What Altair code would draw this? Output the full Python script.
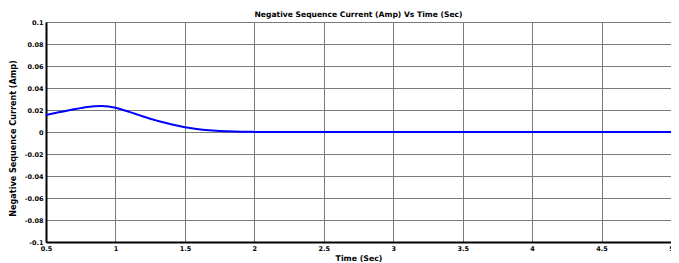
import altair as alt
import pandas as pd

time_sec = [0.5, 0.55, 0.6, 0.65, 0.7, 0.75, 0.8, 0.85, 0.9, 0.95, 1.0, 1.05, 1.1,
            1.15, 1.2, 1.25, 1.3, 1.35, 1.4, 1.45, 1.5, 1.55, 1.6, 1.65, 1.7, 1.75,
            1.8, 1.85, 1.9, 2.0, 2.1, 2.5, 3.0, 4.0, 5.0]
current_amp = [0.0155, 0.0168, 0.0181, 0.0194, 0.0206, 0.0217, 0.0227, 0.0234, 0.0236,
               0.0232, 0.0220, 0.0203, 0.0183, 0.0162, 0.0141, 0.0121, 0.0103, 0.0086,
               0.0070, 0.0056, 0.0044, 0.0034, 0.0026, 0.0019, 0.0014, 0.0010, 0.0007,
               0.0005, 0.0003, 0.0001, 0.0, 0.0, 0.0, 0.0, 0.0]

x_ticks = [0.5, 1, 1.5, 2, 2.5, 3, 3.5, 4, 4.5, 5]
y_ticks = [-0.1, -0.08, -0.06, -0.04, -0.02, 0, 0.02, 0.04, 0.06, 0.08, 0.1]

df = pd.DataFrame({"t": time_sec, "i": current_amp})

FONT = "DejaVu Sans"
label_expr = "datum.value == 0 ? '0' : (datum.value < 0 ? '-' : '') + format(abs(datum.value), '~g')"

W, H = 625, 220

chart = alt.Chart(df).mark_line(color="#0000FF", strokeWidth=2, interpolate="monotone").encode(
    x=alt.X("t:Q", scale=alt.Scale(domain=[0.5, 5], nice=False, zero=False),
            axis=alt.Axis(values=x_ticks, title="Time (Sec)", labelExpr=label_expr,
                          grid=True, gridColor="#7a7a7a", gridWidth=1,
                          domainColor="black", domainWidth=2, ticks=False,
                          labelFont=FONT, labelFontWeight="bold", labelFontSize=6.5,
                          labelColor="black", labelPadding=3, labelFlush=False,
                          labelOverlap=False,
                          titleFont=FONT, titleFontWeight="bold", titleFontSize=7.8,
                          titleColor="black", titleX=W / 2, titleY=16,
                          titleBaseline="middle", titleAlign="center")),
    y=alt.Y("i:Q", scale=alt.Scale(domain=[-0.1, 0.1], nice=False, zero=False),
            axis=alt.Axis(values=y_ticks, title="Negative Sequence Current (Amp)",
                          labelExpr=label_expr,
                          grid=True, gridColor="#7a7a7a", gridWidth=1,
                          domainColor="black", domainWidth=2, ticks=False,
                          labelFont=FONT, labelFontWeight="bold", labelFontSize=6.5,
                          labelColor="black", labelPadding=3, labelFlush=False,
                          labelOverlap=False,
                          titleFont=FONT, titleFontWeight="bold", titleFontSize=8.1,
                          titleColor="black", titleX=-33, titleY=H / 2 + 6, titleAngle=-90,
                          titleBaseline="middle", titleAlign="center")),
).properties(
    width=W,
    height=H,
    title=alt.TitleParams("Negative Sequence Current (Amp) Vs Time (Sec)", font=FONT,
                          fontSize=7.6, fontWeight="bold", color="black", offset=0,
                          anchor="middle"),
    autosize=alt.AutoSizeParams(type="none"),
    padding={"left": 38, "top": 14, "right": 0, "bottom": 21},
).configure_view(stroke="black", strokeWidth=1).configure(background="white")

chart.save("out.html", embed_options={"renderer": "svg", "actions": False})
